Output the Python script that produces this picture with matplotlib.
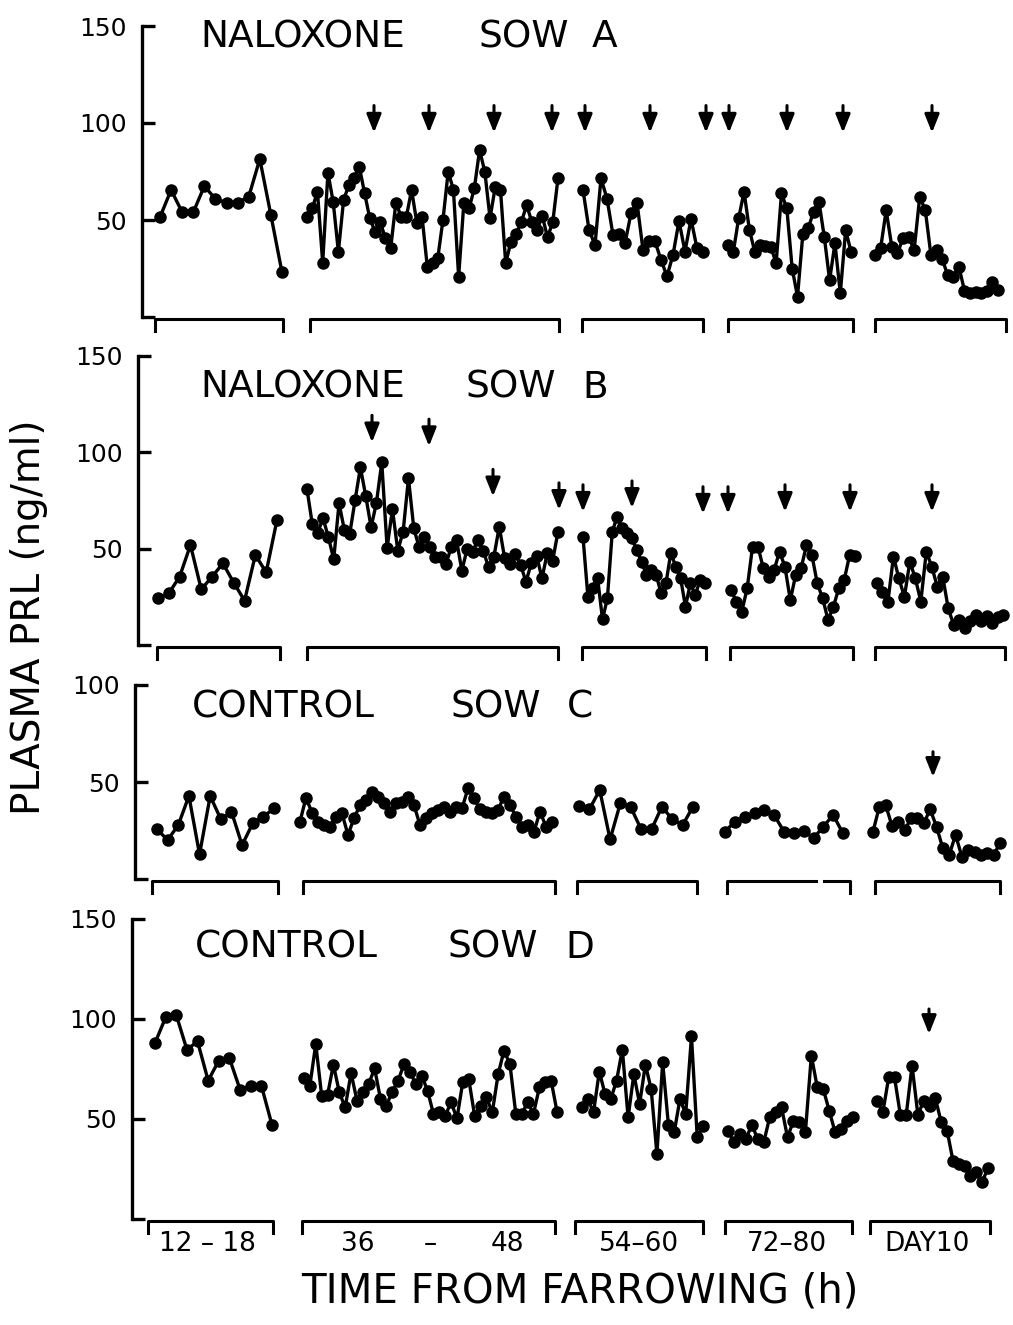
import numpy as np
import matplotlib
matplotlib.use("Agg")
import matplotlib.pyplot as plt

plt.rcParams['font.family'] = ['DejaVu Sans']

W, H = 1013, 1325

# plasma PRL (ng/ml), one list per sampling block: 12-18 h, 36-48 h, 54-60 h, 72-80 h, day 10
a_12_18 = [51.5, 65.5, 54, 54, 67.5, 60.8, 59, 59, 62, 81.4, 52.5, 23]
a_36_48 = [51.4, 56, 64.6, 28, 74.4, 59.5, 33.7, 60.3, 68, 71.5, 77.5, 64, 51, 44, 49,
           40.5, 35.4, 59, 51.7, 51.7, 65.5, 48.6, 51.7, 26, 27.7, 30.2, 50, 75, 65.5,
           20.8, 59, 56, 66.3, 86, 75, 51, 67, 65.5, 27.7, 38.8, 43, 49, 57.7, 49, 45,
           52, 41, 49, 71.5]
a_54_60 = [65.5, 45, 37, 71.5, 61, 42.3, 42.6, 38, 53.4, 59, 34.5, 39, 39, 29.4, 21, 32,
           49.5, 33.7, 50.5, 35.4, 33.7]
a_72_80 = [37, 33.7, 51, 64.6, 45, 33.7, 37, 36.8, 36.3, 27.7, 63.7, 56, 25, 10.5, 43,
           45.7, 54.3, 59.5, 41.4, 19, 38, 12.2, 44.8, 33.7]
a_day10 = [32, 35.4, 55, 36.3, 32.8, 40.5, 41.4, 34.5, 62, 55, 32, 34.5, 30, 21.6, 20.8,
           26, 13.6, 12.2, 13, 12.2, 13.6, 18.2, 14]

b_12_18 = [24.2, 26.8, 35.4, 51.8, 28.8, 35.4, 42.3, 32.3, 23, 46.6, 37.7, 64.8]
b_36_48 = [80.7, 62.5, 58.2, 65.6, 56, 44.4, 73.4, 59.6, 57.5, 75, 92, 77.2, 61, 73.7,
           94.6, 50.4, 70.3, 48.9, 58.7, 86.4, 60.4, 50.6, 56, 51, 45.8, 45.8, 41.8, 50.6,
           54.4, 38.5, 50, 48.4, 54.4, 48.9, 40.2, 45.8, 61.3, 45.2, 42, 47.2, 41.5, 32.8,
           42.3, 46.3, 34.5, 47.8, 43.7, 58.7]
b_54_60 = [56, 25, 29.4, 34.5, 13.3, 24.2, 58.7, 66.5, 60.4, 58.2, 55.3, 49.2, 43.2, 36.3,
           38.9, 36.3, 26.8, 32, 47.8, 40.6, 34.5, 19.9, 32, 25.9, 33.7, 32.3]
b_72_80 = [28.5, 22.5, 17.3, 29.4, 51, 51, 39.7, 35.4, 38.9, 48.4, 40.6, 23.3, 36.3, 39.7,
           51.8, 46.6, 32, 24.2, 13, 19.9, 29.4, 33.7, 46.6, 46.1]
b_day10 = [32, 27.6, 22.5, 45.8, 34.5, 25, 43.2, 34.5, 22.5, 48.4, 40.6, 30.2, 35.4, 19,
           10.4, 13, 8.6, 12.6, 15.5, 12.6, 15.2, 11.2, 14.3, 15.5]

c_12_18 = [25.6, 20.1, 27.8, 42.8, 12.7, 42.8, 30.8, 34.7, 17.5, 28.7, 32.1, 36.4]
c_36_48 = [29.6, 41.9, 34.2, 29.6, 27.8, 27, 32.1, 33.8, 22.7, 31.3, 38.1, 40.7, 45, 42.4,
           39.3, 34.7, 39, 39.9, 42.4, 38.1, 27.8, 31.3, 33.8, 35.6, 37.3, 34.7, 37.3, 36.4,
           46.7, 41.6, 35.9, 34.7, 33.8, 35.6, 42.4, 38.1, 32.1, 27, 27.8, 24.4, 34.7, 27,
           29.6]
c_54_60 = [37.6, 35.9, 45.9, 20.4, 39.3, 36.9, 25.6, 25.6, 37.3, 30.8, 27.8, 37.3]
c_72_80 = [24.4, 29.6, 32.1, 33.8, 35.6, 33, 24.4, 23.9, 24.9, 21, 27, 33, 23.5]
c_day10 = [24.4, 37.3, 38.1, 27.3, 29.6, 25.3, 31.3, 31.3, 28.7, 35.9, 27, 15.8, 12.4,
           22.7, 11.5, 14.9, 14.1, 12.4, 13.6, 12.4, 18.4]

d_12_18 = [88, 100.8, 102, 84.7, 88.8, 69.2, 79.2, 80.3, 64.7, 66.3, 66.7, 47]
d_36_48 = [70.3, 66.7, 87.5, 61.7, 62, 77.2, 63.3, 55.8, 73, 59.2, 63.3, 67.5, 75.3, 60,
           56.7, 63.7, 69.2, 77.5, 73.7, 67.5, 71.7, 64.2, 52.5, 53.7, 51.7, 58.3, 50.3,
           68.7, 70, 51.7, 56.7, 60.8, 53.3, 72.5, 84.2, 77.5, 52.5, 52.5, 58.3, 52.5,
           65.8, 68.7, 69.2, 53.7]
d_54_60 = [55.8, 60, 53.3, 73.7, 62.5, 60, 69.2, 84.7, 50.8, 72.5, 57.5, 77.2, 65, 32.5,
           78.3, 47, 43.3, 60, 52.5, 91.3, 40.8, 46.3]
d_72_80 = [44.2, 38.3, 42.5, 40, 47, 40, 38.3, 50.8, 53.3, 55.8, 40.8, 49.2, 48.3, 43.3,
           81.7, 65.8, 65, 54.2, 43.3, 45, 49.2, 50.8]
d_day10 = [59.2, 53.3, 70.8, 70.8, 52, 52, 76.7, 52, 59.2, 56.7, 60.3, 48.3, 44.2, 29.2,
           27.5, 26.7, 21.7, 23.3, 18.7, 25.3]

# injection marks: (position, PRL level at arrow tip)
a_arrows = [(374, 95), (429, 95), (494, 95), (552, 95), (585, 95), (650, 95),
            (706, 95), (729, 95), (787, 95), (843, 95), (932, 95)]
b_arrows = [(372, 105), (429, 103), (493, 77), (559, 70), (583, 69), (632, 71),
            (703, 68), (728, 68), (785, 69), (850, 69), (932, 69)]
c_arrows = [(933, 52.6)]
d_arrows = [(929, 92.5)]

group_names = ['NALOXONE', 'NALOXONE', 'CONTROL', 'CONTROL']
sow_letters = ['A', 'B', 'C', 'D']
block_labels = ['12 – 18', '54–60', '72–80', 'DAY10']

fig = plt.figure(figsize=(W / 100, H / 100), dpi=100)

panels = [
    dict(data=[a_12_18, a_36_48, a_54_60, a_72_80, a_day10], arrows=a_arrows,
         zero=317, scale=1.94, axis_x=142, ymax=150, alen=14,
         spans=[(160, 282), (307, 558), (583, 703), (728, 851), (875, 998)],
         brackets=[(155, 283), (310, 559), (582, 703), (728, 853), (875, 1006)],
         title=(200, 478, 592, 47)),
    dict(data=[b_12_18, b_36_48, b_54_60, b_72_80, b_day10], arrows=b_arrows,
         zero=645, scale=1.93, axis_x=138, ymax=150, alen=14,
         spans=[(158, 277), (307, 558), (583, 705), (731, 855), (877, 1003)],
         brackets=[(157, 280), (307, 558), (582, 706), (730, 853), (875, 1005)],
         title=(200, 465, 582, 398)),
    dict(data=[c_12_18, c_36_48, c_54_60, c_72_80, c_day10], arrows=c_arrows,
         zero=879, scale=1.94, axis_x=135, ymax=100, alen=13,
         spans=[(157, 274), (300, 552), (579, 693), (725, 843), (873, 1000)],
         brackets=[(152, 278), (303, 555), (577, 697), (727, 850), (875, 1000)],
         gap=(3, 816, 824),
         title=(192, 450, 567, 718)),
    dict(data=[d_12_18, d_36_48, d_54_60, d_72_80, d_day10], arrows=d_arrows,
         zero=1219, scale=2.0, axis_x=132, ymax=150, alen=12.5,
         spans=[(155, 272), (304, 557), (582, 703), (728, 853), (877, 988)],
         brackets=[(148, 273), (302, 555), (575, 703), (725, 852), (870, 990)],
         title=(195, 447, 565, 958)),
]

for i, p in enumerate(panels):
    ylo, yhi = -10, p['ymax'] + 6
    top_px = p['zero'] - yhi * p['scale']
    bot_px = p['zero'] - ylo * p['scale']
    ax = fig.add_axes([p['axis_x'] / W, 1 - bot_px / H,
                       (W - p['axis_x']) / W, (bot_px - top_px) / H])
    ax.set_xlim(p['axis_x'], W)
    ax.set_ylim(ylo, yhi)
    ax.patch.set_alpha(0)
    for s in ['top', 'right', 'bottom']:
        ax.spines[s].set_visible(False)
    ax.spines['left'].set_linewidth(2.4)
    ax.spines['left'].set_bounds(0, p['ymax'])
    ticks = list(range(0, p['ymax'] + 1, 50))
    ax.set_yticks(ticks)
    ax.set_yticklabels([''] + [str(t) for t in ticks[1:]])
    ax.tick_params(axis='y', direction='in', length=9.5, width=2.4, pad=11, labelsize=18)
    ax.set_xticks([])

    for vals, (x0, x1) in zip(p['data'], p['spans']):
        xs = np.linspace(x0, x1, len(vals))
        ax.plot(xs, vals, '-o', color='black', lw=2.4, ms=8, clip_on=False)

    for j, (x0, x1) in enumerate(p['brackets']):
        gap = p.get('gap')
        if gap and gap[0] == j:
            ax.plot([x0, x0, gap[1]], [-7, -1, -1], color='black', lw=2.2, clip_on=False)
            ax.plot([gap[2], x1, x1], [-1, -1, -7], color='black', lw=2.2, clip_on=False)
        else:
            ax.plot([x0, x0, x1, x1], [-7, -1, -1, -7], color='black', lw=2.2,
                    clip_on=False)

    for x, tip in p['arrows']:
        ax.annotate('', xy=(x, tip), xytext=(x, tip + p['alen']),
                    arrowprops=dict(arrowstyle='-|>,head_length=0.55,head_width=0.22',
                                    mutation_scale=20, lw=2.2, color='black',
                                    shrinkA=0, shrinkB=0))

    gx, sx, lx, by = p['title']
    fig.text(gx / W, 1 - by / H, group_names[i], fontsize=27, va='baseline')
    fig.text(sx / W, 1 - by / H, 'SOW', fontsize=27, va='baseline')
    fig.text(lx / W, 1 - by / H, sow_letters[i], fontsize=27, va='baseline')

# block labels under the bottom panel
label_y = 1 - 1244 / H
for txt, cx in zip(block_labels, [207, 639, 787, 927]):
    fig.text(cx / W, label_y, txt, fontsize=19, ha='center', va='center')
for txt, cx in zip(['36', '–', '48'], [358, 430, 507]):
    fig.text(cx / W, label_y, txt, fontsize=19, ha='center', va='center')

fig.text(580 / W, 1 - 1292 / H, 'TIME FROM FARROWING (h)', fontsize=29,
         ha='center', va='center')
fig.text(29 / W, 1 - 617 / H, 'PLASMA PRL (ng/ml)', fontsize=28, rotation=90,
         ha='center', va='center')

fig.savefig('out.png', dpi=100)
